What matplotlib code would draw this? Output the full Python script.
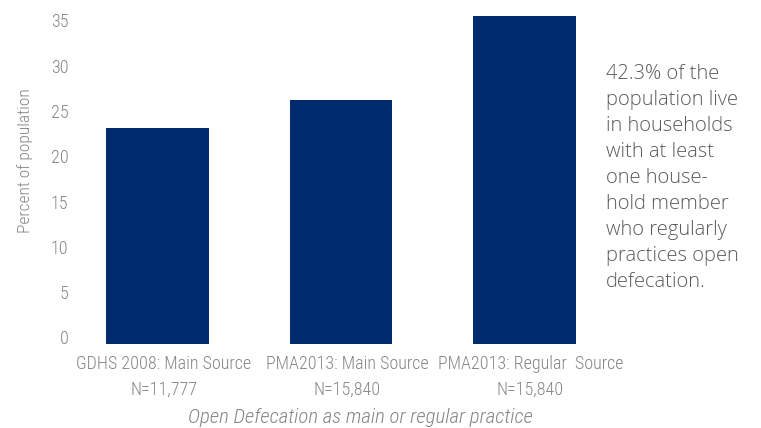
import matplotlib
matplotlib.use("Agg")
import matplotlib.pyplot as plt
from matplotlib.transforms import ScaledTranslation
import numpy as np

# values
categories = ["GDHS 2008: Main Source\nN=11,777",
              "PMA2013: Main Source\nN=15,840",
              "PMA2013: Regular  Source\nN=15,840"]
values = [23.8, 26.9, 36.2]
yticks = [0, 5, 10, 15, 20, 25, 30, 35]

note = ("42.3% of the\npopulation live\nin households\nwith at least\n"
        "one house-\nhold member\nwho regularly\npractices open\ndefecation.")

narrow = ["Roboto Condensed", "DejaVu Sans"]
grey = "#858585"
navy = "#002b6e"

W, H = 761, 428
fig = plt.figure(figsize=(W / 100, H / 100), dpi=100)
ax = fig.add_axes([65.75 / W, 1 - 344 / H, 550.5 / W, (344 - 15.1) / H])

x = np.arange(len(categories))
ax.bar(x, values, width=0.561, color=navy)

ax.set_xlim(-0.5, 2.5)
ax.set_ylim(0, 36.3)
ax.set_yticks(yticks)
ax.set_yticklabels([str(t) for t in yticks], family=narrow, weight="light",
                   fontsize=13, color=grey)
ax.set_xticks(x)
ax.set_xticklabels(categories, family=narrow, weight="light", fontsize=13,
                   color=grey, linespacing=1.55)
ax.tick_params(axis="y", length=0, pad=1)
ax.tick_params(axis="x", length=0, pad=8)
for s in ax.spines.values():
    s.set_visible(False)

# tick labels in the original sit a little above / right of their marks
up = ScaledTranslation(4 / 100, 6.5 / 100, fig.dpi_scale_trans)
for lab in ax.get_yticklabels():
    lab.set_transform(lab.get_transform() + up)
right = ScaledTranslation(6 / 100, 0, fig.dpi_scale_trans)
for lab in ax.get_xticklabels():
    lab.set_transform(lab.get_transform() + right)

ax.set_ylabel("Percent of population", family=narrow, weight="light",
              fontsize=12.5, color=grey)
ax.yaxis.set_label_coords(-0.0595, 0.559)
ax.set_xlabel("Open Defecation as main or regular practice", family=narrow,
              weight="light", fontsize=15, color=grey, style="italic")
ax.xaxis.set_label_coords((360 - 65.75) / 550.5, -0.195)

fig.text(606 / W, 1 - 64 / H, note, family=["Open Sans", "DejaVu Sans"],
         weight="light", fontsize=14.5, color="#5a5a5a", va="top", ha="left",
         linespacing=1.40)

fig.savefig("out.png", dpi=100)
